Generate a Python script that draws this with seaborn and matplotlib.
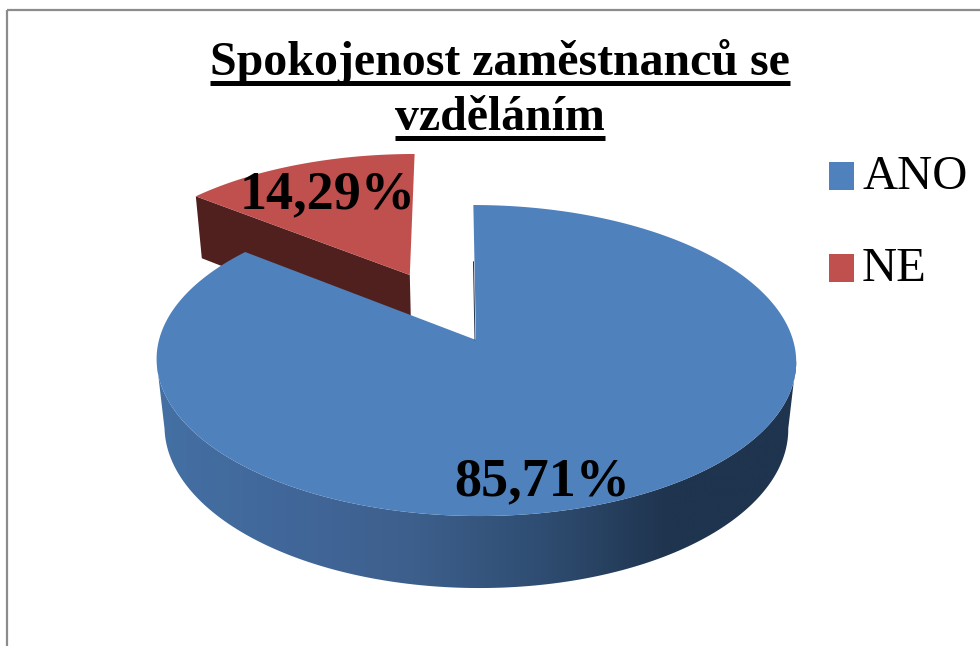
import numpy as np
from matplotlib import pyplot as plt
from matplotlib.patches import Patch, Polygon, Rectangle
import seaborn as sns

kategorie = ['ANO', 'NE']
hodnoty = [85.71, 14.29]
vysunuti = [0, 0.5]
titulek = ['Spokojenost zaměstnanců se', 'vzděláním']
barvy = ['#4f81bd', '#c0504d']
bok_ne = '#4f201e'
bok_ano = ['#4470a3', '#41679a', '#3d5f8c', '#2f4d72', '#1f344e', '#1f344e']

sns.set_theme(style='white')
plt.rcParams['font.family'] = ['Liberation Serif', 'DejaVu Serif']


def projekce(x, y, z=0.0):
    # pohled s perspektivou, vysledek je v pixelech obrazku
    w = 1 + 0.132 * y + 0.025 * z
    return np.column_stack([476 + (317 * x - 3 * y) / w, 340 + (-152.8 * y + 68.7 * z) / w])


def oblouk(wedge):
    t = np.radians(np.linspace(wedge.theta1, wedge.theta2, 500))
    cx, cy = wedge.center
    return cx + wedge.r * np.cos(t), cy + wedge.r * np.sin(t)


fig = plt.figure(figsize=(9.8, 6.46), dpi=100)
ax = fig.add_axes([0, 0, 1, 1])
paleta = sns.color_palette(barvy)
wedges, _, auto = ax.pie(hodnoty, explode=vysunuti, startangle=90, counterclock=False,
                         colors=paleta, radius=1,
                         autopct=lambda p: f'{p:.2f}%'.replace('.', ','))
ax.set_aspect('auto')
ax.set_xlim(0, 980)
ax.set_ylim(646, 0)
ax.axis('off')
for w in wedges:
    w.set_visible(False)

ano, ne = wedges

# NE - bocni stena a vrch
cx, cy = ne.center
x, y = oblouk(ne)
x0, y0 = x[0], y[0]
if abs(ne.theta1 % 360 - 90) < 1:
    x0, y0 = x[-1], y[-1]
stena = np.vstack([projekce(np.array([cx, x0]), np.array([cy, y0])),
                   projekce(np.array([x0, cx]), np.array([y0, cy]), 1.0)])
ax.add_patch(Polygon(stena, fc=bok_ne, ec='none', zorder=1))
vrch = np.vstack([projekce(np.array([cx]), np.array([cy])), projekce(x, y)])
ax.add_patch(Polygon(vrch, fc=paleta[1], ec='none', zorder=2))

# ANO - bok s prechodem a vrch
x, y = oblouk(ano)
maska = y < -0.13
horni = projekce(x[maska], y[maska])
dolni = projekce(x[maska], y[maska], 1.0)
obrys = Polygon(np.vstack([horni, dolni[::-1]]), fc='none', ec='none', zorder=3)
ax.add_patch(obrys)
cmap = sns.blend_palette(bok_ano, as_cmap=True)
im = ax.imshow(np.linspace(0, 1, 256)[None, :], cmap=cmap, aspect='auto', zorder=3,
               extent=(157, 797, 646, 0))
im.set_clip_path(obrys)
ax.set_xlim(0, 980)
ax.set_ylim(646, 0)

vrch = np.vstack([projekce(np.array([0.0]), np.array([0.0])), projekce(x, y)])
ax.add_patch(Polygon(vrch, fc=paleta[0], ec='none', zorder=4))
# tenka tmava hrana u rezu
hrana = projekce(np.array([0.0, 0.0]), np.array([0.0, 0.55]))
ax.plot(hrana[:, 0] - 1, hrana[:, 1], color=bok_ano[-1], lw=0.7, zorder=5)

# popisky
auto[0].set(position=(542, 495), ha='center', va='baseline', fontsize=39,
            fontweight='bold', color='black', zorder=6)
auto[1].set(position=(328, 208), ha='center', va='baseline', fontsize=39,
            fontweight='bold', color='black', zorder=6)

# ramecek grafu
ax.add_patch(Rectangle((7, 10), 1200, 1000, fill=False, ec='#8c8c8c', lw=1.6, zorder=0))

# titulek s podtrzenim
radky = [ax.text(500, 75, titulek[0], ha='center', va='baseline', fontsize=34.5,
                 fontweight='bold', color='black', zorder=6),
         ax.text(500, 130, titulek[1], ha='center', va='baseline', fontsize=34.5,
                 fontweight='bold', color='black', zorder=6)]
fig.canvas.draw()
for radek, yp in zip(radky, [82.5, 137.5]):
    box = radek.get_window_extent()
    ax.plot([box.x0, box.x1], [yp, yp], color='black', lw=3.6, solid_capstyle='butt', zorder=6)

handles = [Patch(fc=c, ec='none', label=k) for c, k in zip(paleta, kategorie)]
leg = ax.legend(handles=handles, loc='upper left', bbox_to_anchor=(829, 155), bbox_transform=ax.transData,
                frameon=False, fontsize=35, labelcolor='black', handlelength=0.51, handleheight=0.51,
                handletextpad=0.17, labelspacing=0.99, borderpad=0, borderaxespad=0)
for h in leg.get_patches():
    h.set_y(h.get_y() - 3.2)

plt.savefig('out.png', dpi=100)
